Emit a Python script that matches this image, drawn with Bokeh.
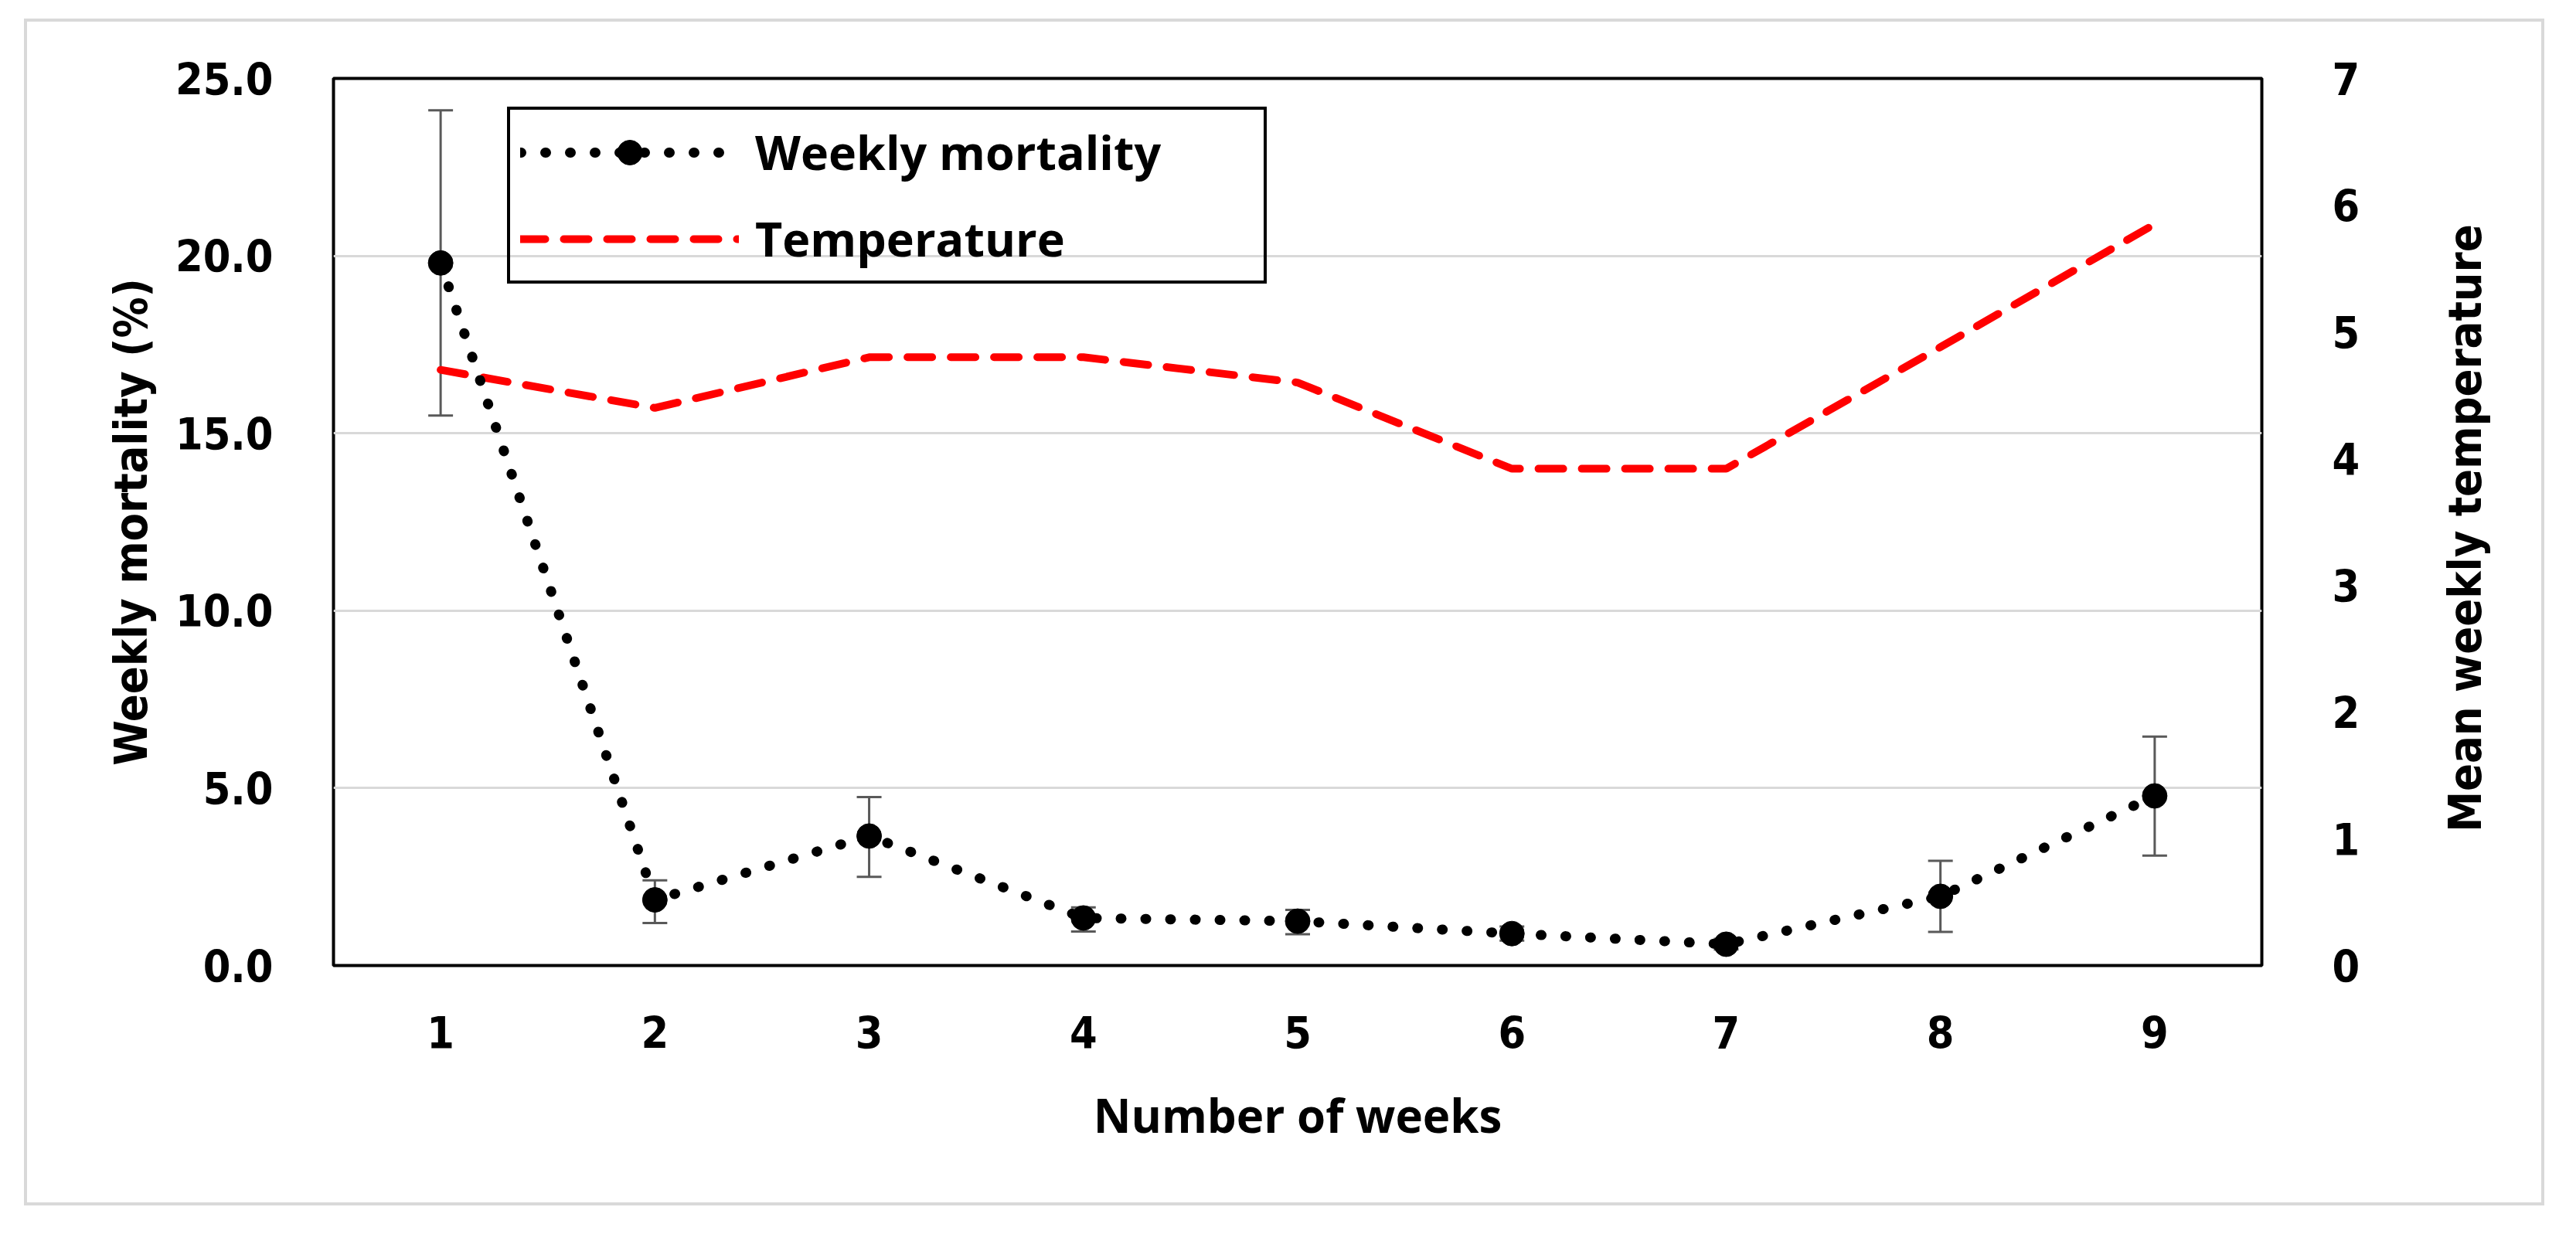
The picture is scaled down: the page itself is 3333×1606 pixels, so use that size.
import math
from bokeh.plotting import figure
from bokeh.models import (Range1d, LinearAxis, FixedTicker, PrintfTickFormatter,
                          Whisker, ColumnDataSource, Legend, LegendItem, TeeHead, Label)
from bokeh.embed import file_html
from bokeh.resources import INLINE

# ---- data ----
weeks = [1, 2, 3, 4, 5, 6, 7, 8, 9]
mortality = [19.8, 1.85, 3.65, 1.34, 1.25, 0.9, 0.6, 1.95, 4.78]
mortality_low = [15.5, 1.2, 2.5, 0.96, 0.88, 0.7, 0.45, 0.95, 3.1]
mortality_high = [24.1, 2.4, 4.75, 1.64, 1.57, 1.1, 0.75, 2.95, 6.45]
temperature = [4.7, 4.4, 4.8, 4.8, 4.6, 3.92, 3.92, 4.88, 5.85]
left_ticks = [0, 5, 10, 15, 20, 25]
grid_ticks = [5, 10, 15, 20]
right_ticks = [0, 1, 2, 3, 4, 5, 6, 7]

TICK_FONT = "DejaVu Sans Condensed"
TEXT_FONT = "Open Sans"

FRAME_H = 1528 - 73 - 315

p = figure(width=3253, height=1528, output_backend="svg", toolbar_location=None,
           x_range=Range1d(0.5, 9.5), y_range=Range1d(0, 25),
           min_border_left=396, min_border_right=370,
           min_border_top=73, min_border_bottom=315)
p.margin = (24, 0, 0, 31)
p.styles = {"border": "4px solid #d9d9d9", "box-sizing": "content-box"}
p.background_fill_color = "white"
p.border_fill_color = "white"
p.outline_line_color = "black"
p.outline_line_width = 4
p.outline_line_alpha = 1.0

p.extra_y_ranges = {"temp": Range1d(0, 7)}

# grid
p.xgrid.visible = False
p.ygrid.ticker = FixedTicker(ticks=grid_ticks)
p.ygrid.grid_line_color = "#d9d9d9"
p.ygrid.grid_line_width = 3

# x axis
xa = p.xaxis[0]
xa.ticker = FixedTicker(ticks=weeks)
xa.axis_label = "Number of weeks"
xa.axis_label_text_font = TEXT_FONT
xa.axis_label_text_font_style = "bold"
xa.axis_label_text_font_size = "60px"
xa.axis_label_text_color = "black"
xa.axis_label_standoff = 42
xa.major_label_text_font = TICK_FONT
xa.major_label_text_font_style = "bold"
xa.major_label_text_font_size = "57px"
xa.major_label_text_color = "black"
xa.major_label_standoff = 59
xa.major_tick_line_color = None
xa.minor_tick_line_color = None
xa.axis_line_color = None

# left axis
ya = p.yaxis[0]
ya.ticker = FixedTicker(ticks=left_ticks)
ya.formatter = PrintfTickFormatter(format="%.1f")
ya.axis_label = "Weekly mortality (%)"
ya.axis_label_text_font = TICK_FONT
ya.axis_label_text_font_style = "bold"
ya.axis_label_text_font_size = "59px"
ya.axis_label_text_color = "black"
ya.axis_label_standoff = 20
ya.major_label_text_font = TICK_FONT
ya.major_label_text_font_style = "bold"
ya.major_label_text_font_size = "57px"
ya.major_label_text_color = "black"
ya.major_label_standoff = 72
ya.major_tick_line_color = None
ya.minor_tick_line_color = None
ya.axis_line_color = None

# right axis (ticks only)
ra = LinearAxis(y_range_name="temp", ticker=FixedTicker(ticks=right_ticks))
ra.major_label_text_font = TICK_FONT
ra.major_label_text_font_style = "bold"
ra.major_label_text_font_size = "57px"
ra.major_label_text_color = "black"
ra.major_label_standoff = 85
ra.major_tick_line_color = None
ra.minor_tick_line_color = None
ra.axis_line_color = None
p.add_layout(ra, "right")

# right-axis title, reading upward, placed in the right side panel
right_title = Label(x=133, y=FRAME_H / 2 - 4, x_units="screen", y_units="screen",
                    text="Mean weekly temperature", angle=90, angle_units="deg",
                    text_align="center", text_baseline="middle",
                    text_font=TICK_FONT, text_font_style="bold",
                    text_font_size="59px", text_color="black")
p.add_layout(right_title, "right")

# error bars
err_src = ColumnDataSource(dict(x=weeks, low=mortality_low, high=mortality_high))
whisk = Whisker(base="x", lower="low", upper="high", source=err_src,
                line_color="#595959", line_width=3,
                upper_head=TeeHead(size=32, line_color="#595959", line_width=3),
                lower_head=TeeHead(size=32, line_color="#595959", line_width=3))
p.add_layout(whisk)

# temperature
temp_r = p.line(weeks, temperature, y_range_name="temp", line_color="#ff0000",
                line_width=10, line_dash="32 24", line_cap="round")

# mortality
mort_line = p.line(weeks, mortality, line_color="black", line_width=13,
                   line_dash="1 31", line_cap="round")
mort_pts = p.scatter(weeks, mortality, marker="circle", size=32,
                     fill_color="black", line_color="black")

legend = Legend(items=[LegendItem(label="Weekly mortality", renderers=[mort_line, mort_pts]),
                       LegendItem(label="Temperature", renderers=[temp_r])],
                location=(225, 882))
legend.label_text_font = TEXT_FONT
legend.label_text_font_style = "bold"
legend.label_text_font_size = "61px"
legend.label_text_color = "black"
legend.label_standoff = 21
legend.glyph_width = 283
legend.glyph_height = 80
legend.label_height = 80
legend.label_width = 645
legend.padding = 13
legend.spacing = 29
legend.margin = 0
legend.border_line_color = "black"
legend.border_line_width = 4
legend.border_line_alpha = 1.0
legend.background_fill_alpha = 0
p.add_layout(legend, "center")

open("out.html", "w").write(file_html(p, INLINE))
